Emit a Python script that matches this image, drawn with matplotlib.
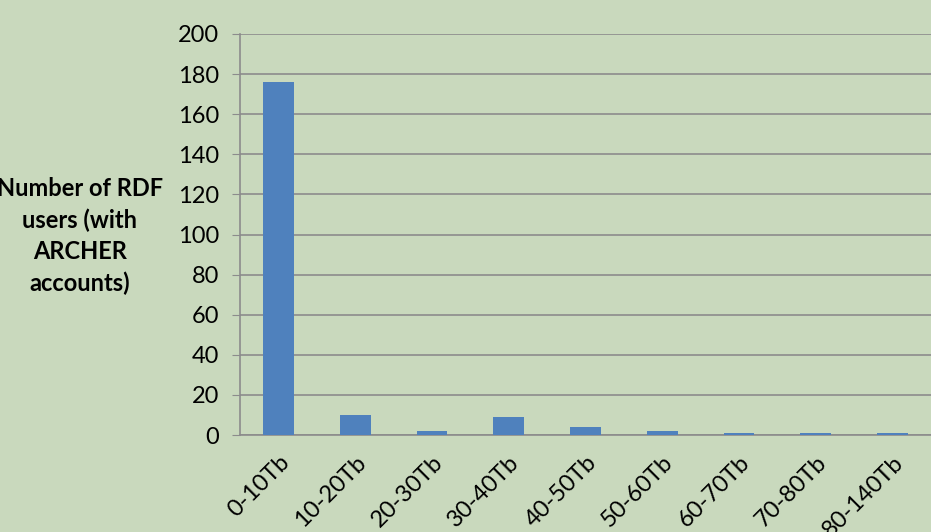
import numpy as np
import matplotlib.pyplot as plt

categories = ["0-10Tb", "10-20Tb", "20-30Tb", "30-40Tb", "40-50Tb",
              "50-60Tb", "60-70Tb", "70-80Tb", "80-140Tb"]
users = [176, 10, 2, 9, 4, 2, 1, 1, 1]
yticks = [0, 20, 40, 60, 80, 100, 120, 140, 160, 180, 200]

bg = '#c9d9bd'
plt.rcParams['font.family'] = ['Lato', 'DejaVu Sans']

fig = plt.figure(figsize=(9.31, 5.32), dpi=100, facecolor=bg)
ax = fig.add_axes([240/931, 1 - 435/532, 691/931, (435 - 34)/532])
ax.set_facecolor(bg)

ind = np.arange(len(categories))
ax.bar(ind, users, 0.4, color='#4f81bd', zorder=3)

ax.set_xlim(-0.5, len(categories) - 0.5)
ax.set_ylim(0, 200)
ax.set_yticks(yticks)
ax.yaxis.grid(True, color='#8c8c8c', linewidth=1.2, zorder=0)
ax.tick_params(axis='y', length=6, color='#8c8c8c', labelsize=17, pad=9)
ax.tick_params(axis='x', length=0, labelsize=17, pad=12)
ax.set_xticks(ind)
ax.set_xticklabels(categories, rotation=45, ha='right', rotation_mode='anchor')

for s in ['top', 'right']:
    ax.spines[s].set_visible(False)
for s in ['left', 'bottom']:
    ax.spines[s].set_color('#8c8c8c')
    ax.spines[s].set_linewidth(1.2)

fig.text(80/931, 1 - 236/532, "Number of RDF\nusers (with\nARCHER\naccounts)",
         ha='center', va='center', fontsize=17, fontweight='bold',
         linespacing=1.42)

fig.savefig('out.png', dpi=100, facecolor=bg)
